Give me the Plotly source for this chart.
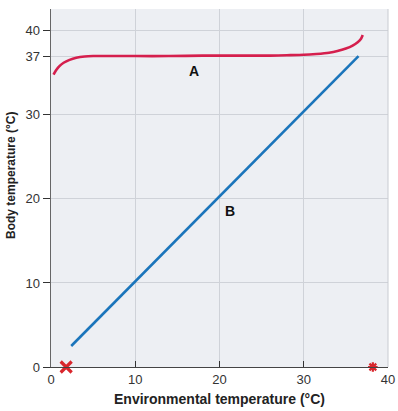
import plotly.graph_objects as go

# Curve A (regulator) - body temperature vs environmental temperature
a_env = [0.3, 0.6, 1.0, 1.5, 2.2, 3.0, 4.0, 5.0, 7.0, 10, 14, 18, 22, 26, 28, 30, 31.5, 33, 34, 35, 35.8, 36.4, 36.8, 37.0]
a_body = [34.8, 35.3, 35.8, 36.2, 36.55, 36.8, 36.95, 37.0, 37.0, 37.0, 37.0, 37.05, 37.05, 37.05, 37.1, 37.15, 37.25, 37.4, 37.6, 37.9, 38.25, 38.65, 39.05, 39.5]

# Line B (conformer)
b_env = [2.4, 36.5]
b_body = [2.5, 37.0]

# Axis ticks
x_ticks = [0, 10, 20, 30, 40]
y_ticks = [0, 10, 20, 30, 37, 40]

# Marker positions on x axis
x_mark_env = [1.8]
star_env = [38.2]

RED = "#d51f4d"
BLUE = "#1b75bb"
FONT = "Liberation Sans, Arial, sans-serif"

fig = go.Figure()
fig.add_trace(go.Scatter(x=a_env, y=a_body, mode="lines", line=dict(color=RED, width=2.6, shape="spline", smoothing=0.6), hoverinfo="skip"))
fig.add_trace(go.Scatter(x=b_env, y=b_body, mode="lines", line=dict(color=BLUE, width=2.6), hoverinfo="skip"))
fig.add_trace(go.Scatter(x=x_mark_env, y=[0], mode="markers", cliponaxis=False,
                         marker=dict(symbol="x-thin", size=11, line=dict(color="#d9262c", width=3.2)), hoverinfo="skip"))
fig.add_trace(go.Scatter(x=star_env, y=[0], mode="markers", cliponaxis=False,
                         marker=dict(symbol="asterisk", size=8, line=dict(color="#d9262c", width=2.2)), hoverinfo="skip"))

fig.add_annotation(x=17, y=35.2, text="<b>A</b>", showarrow=False, font=dict(family=FONT, size=14, color="#111"))
fig.add_annotation(x=21.2, y=18.6, text="<b>B</b>", showarrow=False, font=dict(family=FONT, size=14, color="#111"))
fig.add_annotation(xref="paper", yref="paper", x=-0.119, y=0.536, text="<b>Body temperature (°C)</b>",
                   textangle=-90, showarrow=False, xanchor="center", yanchor="middle",
                   font=dict(family=FONT, size=12, color="#222"))

fig.update_layout(
    width=398, height=411,
    margin=dict(l=51, r=10, t=9, b=44, autoexpand=False),
    paper_bgcolor="white",
    plot_bgcolor="#edeff3",
    showlegend=False,
    font=dict(family=FONT, size=13, color="#333"),
    xaxis=dict(range=[0, 40], tickvals=x_ticks, ticks="inside", ticklen=6, tickcolor="#333",
               showgrid=True, gridcolor="#cfd2d8", gridwidth=1, zeroline=False,
               showline=True, linecolor="#444", linewidth=1.2, automargin=False,
               title=dict(text="<b>Environmental temperature (°C)</b>", font=dict(size=14, color="#222"), standoff=8),
               tickfont=dict(size=13, color="#333")),
    yaxis=dict(range=[0, 42.6], tickvals=y_ticks, ticks="outside", ticklen=7, tickcolor="#333",
               showgrid=True, gridcolor="#cfd2d8", gridwidth=1, zeroline=False,
               showline=True, linecolor="#666", linewidth=1.5, automargin=False,
               tickfont=dict(size=13, color="#333")),
)
fig.add_shape(type="line", xref="paper", yref="paper", x0=1, x1=1, y0=0, y1=1,
              line=dict(color="#c8cbd1", width=1))

fig.write_html("out.html", config={"displayModeBar": False, "staticPlot": True},
               post_script="document.body.style.margin='0';document.body.style.overflow='hidden';")
